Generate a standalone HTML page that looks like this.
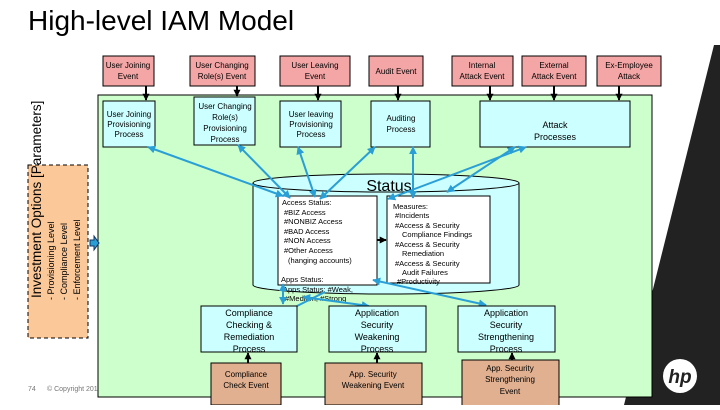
<!DOCTYPE html>
<html><head><meta charset="utf-8"><style>
body{margin:0;width:720px;height:405px;overflow:hidden;background:#fff;font-family:"Liberation Sans",sans-serif}
svg text{font-family:"Liberation Sans",sans-serif}
</style></head><body>
<svg width="720" height="405" viewBox="0 0 720 405" xmlns="http://www.w3.org/2000/svg">
<defs>
<marker id="b" viewBox="0 0 10 10" refX="9" refY="5" markerWidth="4" markerHeight="4" orient="auto-start-reverse"><path d="M0,0L10,5L0,10z" fill="#2a9fd6"/></marker>
<marker id="k" viewBox="0 0 10 10" refX="9" refY="5" markerWidth="3.5" markerHeight="3.5" orient="auto"><path d="M0,0L10,5L0,10z" fill="#000"/></marker>
</defs>
<polygon points="714,45 720,45 720,405 624,405" fill="#222"/>
<circle cx="680" cy="376" r="17" fill="#fff"/>
<text x="680" y="383" font-size="19" font-style="italic" font-weight="bold" text-anchor="middle" fill="#222">hp</text>
<text x="28" y="30" font-size="28" fill="#000">High-level IAM Model</text>
<text x="28" y="391" font-size="7" fill="#777">74</text>
<text x="47" y="391" font-size="7" fill="#777">© Copyright 201</text>
<rect x="98" y="95" width="554" height="302" fill="#ccffcc" stroke="#000"/>
<!-- left box -->
<rect x="28" y="165" width="60" height="173" fill="#fbc89a" stroke="#000" stroke-dasharray="4,3"/>
<g font-size="13.5"><text transform="translate(41,298) rotate(-90)">Investment Options [Parameters]</text></g>
<g font-size="9"><text transform="translate(54,300) rotate(-90)">- Provisioning Level</text>
<text transform="translate(67,300) rotate(-90)">- Compliance Level</text>
<text transform="translate(80,300) rotate(-90)">- Enforcement Level</text></g>
<path d="M90,240h4v-4l5,7l-5,7v-4h-4z" fill="#2a9fd6" stroke="#136"/>
<!-- events -->
<g fill="#f4a6a6" stroke="#000">
<rect x="103" y="56" width="51" height="30"/><rect x="190" y="56" width="65" height="30"/>
<rect x="280" y="56" width="70" height="30"/><rect x="369" y="56" width="54" height="30"/>
<rect x="452" y="56" width="61" height="30"/><rect x="522" y="56" width="64" height="30"/>
<rect x="597" y="56" width="64" height="30"/></g>
<g font-size="8" text-anchor="middle">
<text x="128" y="68">User Joining</text><text x="128" y="79">Event</text>
<text x="222" y="68">User Changing</text><text x="222" y="79">Role(s) Event</text>
<text x="315" y="68">User Leaving</text><text x="315" y="79">Event</text>
<text x="396" y="74">Audit Event</text>
<text x="482" y="68">Internal</text><text x="482" y="79">Attack Event</text>
<text x="554" y="68">External</text><text x="554" y="79">Attack Event</text>
<text x="629" y="68">Ex-Employee</text><text x="629" y="79">Attack</text></g>
<g stroke="#000" stroke-width="2" marker-end="url(#k)">
<line x1="146" y1="86" x2="146" y2="100"/><line x1="237" y1="86" x2="237" y2="96"/>
<line x1="318" y1="86" x2="318" y2="100"/><line x1="398" y1="86" x2="398" y2="100"/>
<line x1="490" y1="86" x2="490" y2="100"/><line x1="554" y1="86" x2="554" y2="100"/>
<line x1="619" y1="86" x2="619" y2="100"/></g>
<!-- processes -->
<g fill="#ccffff" stroke="#000">
<rect x="103" y="101" width="52" height="46"/><rect x="194" y="97" width="61" height="48"/>
<rect x="280" y="101" width="61" height="46"/><rect x="371" y="101" width="59" height="46"/>
<rect x="480" y="101" width="150" height="46"/></g>
<g font-size="8" text-anchor="middle">
<text x="129" y="117">User Joining</text><text x="129" y="127">Provisioning</text><text x="129" y="137">Process</text>
<text x="225" y="109">User Changing</text><text x="225" y="120">Role(s)</text><text x="225" y="131">Provisioning</text><text x="225" y="142">Process</text>
<text x="311" y="117">User leaving</text><text x="311" y="127">Provisioning</text><text x="311" y="137">Process</text>
<text x="401" y="121">Auditing</text><text x="401" y="132">Process</text>
<text x="555" y="128" font-size="9">Attack</text><text x="555" y="140" font-size="9">Processes</text></g>
<!-- cylinder -->
<path d="M253,183 L253,285 A133,9 0 0 0 519,285 L519,183" fill="#ccffff" stroke="#000"/>
<ellipse cx="386" cy="183" rx="133" ry="9" fill="#ccffff" stroke="#000"/>
<text x="389" y="191" font-size="16" text-anchor="middle">Status</text>
<rect x="278" y="196" width="99" height="89" fill="#fff" stroke="#000"/>
<rect x="387" y="196" width="103" height="87" fill="#fff" stroke="#000"/>
<g font-size="7.5">
<text x="282" y="205">Access Status:</text><text x="284" y="215">#BIZ Access</text><text x="284" y="224">#NONBIZ Access</text>
<text x="284" y="234">#BAD Access</text><text x="284" y="243">#NON Access</text><text x="284" y="253">#Other Access</text>
<text x="288" y="263">(hanging accounts)</text>
<text x="281" y="282">Apps Status:</text><text x="283" y="292">Apps Status: #Weak,</text><text x="285" y="301">#Medium, #Strong</text>
<text x="393" y="209">Measures:</text><text x="395" y="218">#Incidents</text><text x="395" y="228">#Access &amp; Security</text>
<text x="402" y="237">Compliance Findings</text><text x="395" y="247">#Access &amp; Security</text><text x="402" y="256">Remediation</text>
<text x="395" y="266">#Access &amp; Security</text><text x="402" y="275">Audit Failures</text><text x="397" y="284">#Productivity</text></g>
<line x1="377" y1="240" x2="386" y2="240" stroke="#000" stroke-width="2" marker-end="url(#k)"/>
<!-- blue arrows -->
<g stroke="#2a9fd6" stroke-width="2" marker-end="url(#b)" marker-start="url(#b)" fill="none">
<line x1="148" y1="147" x2="283" y2="196"/><line x1="238" y1="145" x2="290" y2="198"/>
<line x1="298" y1="147" x2="315" y2="197"/><line x1="375" y1="147" x2="320" y2="199"/>
<line x1="526" y1="147" x2="388" y2="199"/><line x1="413" y1="147" x2="413" y2="198"/>
<line x1="515" y1="147" x2="447" y2="192"/>
<line x1="283" y1="284" x2="283" y2="304"/><line x1="303" y1="297" x2="369" y2="306"/>
<line x1="373" y1="280" x2="486" y2="305"/></g>
<line x1="297" y1="306" x2="325" y2="292" stroke="#2a9fd6" stroke-width="2"/>
<!-- bottom processes -->
<g fill="#ccffff" stroke="#000">
<rect x="201" y="306" width="96" height="46"/><rect x="329" y="306" width="97" height="46"/>
<rect x="458" y="306" width="97" height="46"/></g>
<g font-size="9" text-anchor="middle">
<text x="249" y="316">Compliance</text><text x="249" y="328">Checking &amp;</text><text x="249" y="340">Remediation</text><text x="249" y="352">Process</text>
<text x="377" y="316">Application</text><text x="377" y="328">Security</text><text x="377" y="340">Weakening</text><text x="377" y="352">Process</text>
<text x="506" y="316">Application</text><text x="506" y="328">Security</text><text x="506" y="340">Strengthening</text><text x="506" y="352">Process</text></g>
<g fill="#e0b090" stroke="#000">
<rect x="211" y="363" width="70" height="42"/><rect x="325" y="363" width="97" height="42"/>
<rect x="462" y="360" width="97" height="46"/></g>
<g stroke="#000" stroke-width="2" marker-end="url(#k)">
<line x1="248" y1="363" x2="248" y2="353"/><line x1="377" y1="363" x2="377" y2="353"/><line x1="512" y1="360" x2="512" y2="353"/></g>
<g font-size="8" text-anchor="middle">
<text x="246" y="377">Compliance</text><text x="246" y="388">Check Event</text>
<text x="373" y="377">App. Security</text><text x="373" y="388">Weakening Event</text>
<text x="510" y="371">App. Security</text><text x="510" y="382">Strengthening</text><text x="510" y="394">Event</text></g>
</svg>
</body></html>
